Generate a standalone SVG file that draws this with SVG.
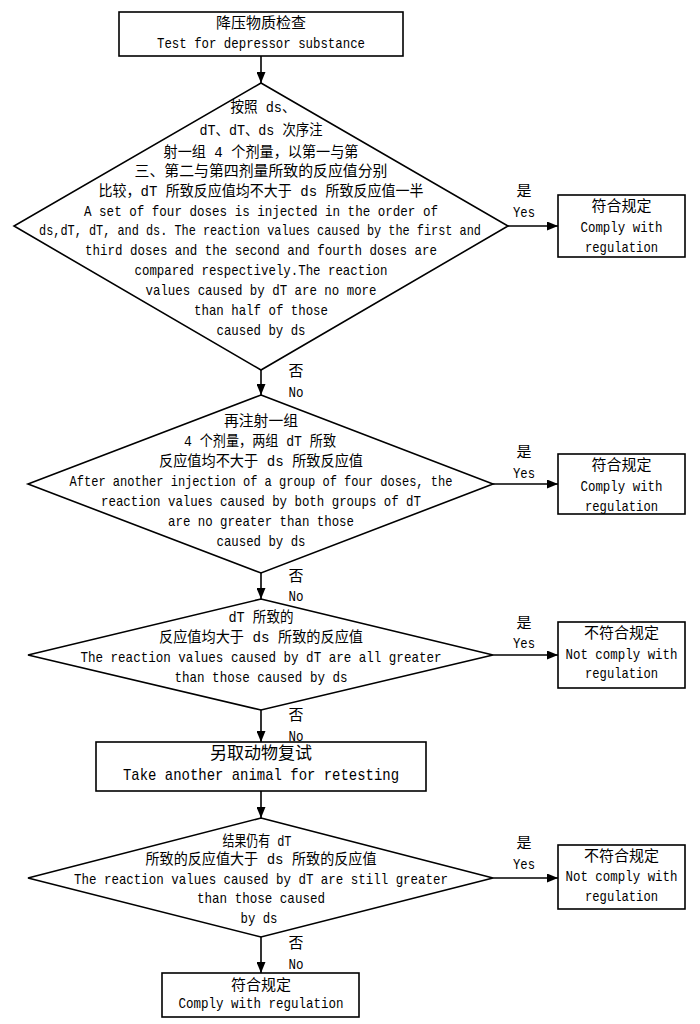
<svg xmlns="http://www.w3.org/2000/svg" width="700" height="1024" viewBox="0 0 700 1024">
<style>
text{font-family:"Liberation Mono","Noto Sans CJK SC",monospace;font-size:15px;fill:#000;text-anchor:middle;dominant-baseline:central}
.big{font-size:17px}
.shape{fill:#fff;stroke:#000;stroke-width:1.6}
.conn{stroke:#000;stroke-width:1.6;fill:none;marker-end:url(#ah)}
</style>
<defs>
<marker id="ah" markerUnits="userSpaceOnUse" markerWidth="11" markerHeight="9" refX="11" refY="4.5" orient="auto">
<path d="M0,0 L11,4.5 L0,9 z" fill="#000"/>
</marker>
</defs>
<rect width="700" height="1024" fill="#fff"/>
<g id="connectors">
<line class="conn" x1="261" y1="56" x2="261" y2="83"/>
<line class="conn" x1="261" y1="370" x2="261" y2="395"/>
<line class="conn" x1="261" y1="573" x2="261" y2="599"/>
<line class="conn" x1="261" y1="710" x2="261" y2="742"/>
<line class="conn" x1="261" y1="791" x2="261" y2="818"/>
<line class="conn" x1="261" y1="937" x2="261" y2="973"/>
<line class="conn" x1="508" y1="226" x2="558" y2="226"/>
<line class="conn" x1="493" y1="484" x2="558" y2="484"/>
<line class="conn" x1="493" y1="655" x2="558" y2="655"/>
<line class="conn" x1="493" y1="878" x2="558" y2="878"/>
<text x="524" y="192">是</text><text x="524" y="213" textLength="22" lengthAdjust="spacingAndGlyphs">Yes</text>
<text x="296" y="372">否</text><text x="296" y="393" textLength="15" lengthAdjust="spacingAndGlyphs">No</text>
<text x="524" y="453">是</text><text x="524" y="474" textLength="22" lengthAdjust="spacingAndGlyphs">Yes</text>
<text x="296" y="577">否</text><text x="296" y="597" textLength="15" lengthAdjust="spacingAndGlyphs">No</text>
<text x="524" y="624">是</text><text x="524" y="644" textLength="22" lengthAdjust="spacingAndGlyphs">Yes</text>
<text x="296" y="716">否</text><text x="296" y="737" textLength="15" lengthAdjust="spacingAndGlyphs">No</text>
<text x="524" y="844">是</text><text x="524" y="865" textLength="22" lengthAdjust="spacingAndGlyphs">Yes</text>
<text x="296" y="944">否</text><text x="296" y="965" textLength="15" lengthAdjust="spacingAndGlyphs">No</text>
</g>
<g id="start">
<rect class="shape" x="119" y="12" width="284" height="44"/>
<text x="261" y="24">降压物质检查</text>
<text x="261" y="44" textLength="208" lengthAdjust="spacingAndGlyphs">Test for depressor substance</text>
</g>
<g id="decision1">
<polygon class="shape" points="261,83 508,226 261,370 14,226"/>
<text x="263" y="108" textLength="65" lengthAdjust="spacingAndGlyphs">按照 ds、</text>
<text x="261" y="131" textLength="123" lengthAdjust="spacingAndGlyphs">dT、dT、ds 次序注</text>
<text x="261" y="153" textLength="195" lengthAdjust="spacingAndGlyphs">射一组 4 个剂量，以第一与第</text>
<text x="261" y="172" textLength="253" lengthAdjust="spacingAndGlyphs">三、第二与第四剂量所致的反应值分别</text>
<text x="261" y="192" textLength="325" lengthAdjust="spacingAndGlyphs">比较，dT 所致反应值均不大于 ds 所致反应值一半</text>
<text x="261" y="212" textLength="354" lengthAdjust="spacingAndGlyphs">A set of four doses is injected in the order of</text>
<text x="260" y="231" textLength="442" lengthAdjust="spacingAndGlyphs">ds,dT, dT, and ds. The reaction values caused by the first and</text>
<text x="261" y="251" textLength="352" lengthAdjust="spacingAndGlyphs">third doses and the second and fourth doses are</text>
<text x="261" y="271" textLength="253" lengthAdjust="spacingAndGlyphs">compared respectively.The reaction</text>
<text x="261" y="291" textLength="231" lengthAdjust="spacingAndGlyphs">values caused by dT are no more</text>
<text x="261" y="311" textLength="134" lengthAdjust="spacingAndGlyphs">than half of those</text>
<text x="261" y="331" textLength="89" lengthAdjust="spacingAndGlyphs">caused by ds</text>
</g>
<g id="yes1">
<rect class="shape" x="558" y="195" width="127" height="62"/>
<text x="621.5" y="207">符合规定</text>
<text x="621.5" y="228" textLength="82" lengthAdjust="spacingAndGlyphs">Comply with</text>
<text x="621.5" y="248" textLength="73" lengthAdjust="spacingAndGlyphs">regulation</text>
</g>
<g id="decision2">
<polygon class="shape" points="261,395 493,484 261,573 28,484"/>
<text x="261" y="422" textLength="74" lengthAdjust="spacingAndGlyphs">再注射一组</text>
<text x="260" y="442" textLength="152" lengthAdjust="spacingAndGlyphs">4 个剂量，两组 dT 所致</text>
<text x="261" y="462" textLength="204" lengthAdjust="spacingAndGlyphs">反应值均不大于 ds 所致反应值</text>
<text x="261" y="482" textLength="383" lengthAdjust="spacingAndGlyphs">After another injection of a group of four doses, the</text>
<text x="261" y="502" textLength="320" lengthAdjust="spacingAndGlyphs">reaction values caused by both groups of dT</text>
<text x="261" y="522" textLength="186" lengthAdjust="spacingAndGlyphs">are no greater than those</text>
<text x="261" y="542" textLength="89" lengthAdjust="spacingAndGlyphs">caused by ds</text>
</g>
<g id="yes2">
<rect class="shape" x="558" y="454" width="127" height="60"/>
<text x="621.5" y="466">符合规定</text>
<text x="621.5" y="487" textLength="82" lengthAdjust="spacingAndGlyphs">Comply with</text>
<text x="621.5" y="507" textLength="73" lengthAdjust="spacingAndGlyphs">regulation</text>
</g>
<g id="decision3">
<polygon class="shape" points="261,599 493,655 261,710 28,655"/>
<text x="261" y="618" textLength="65" lengthAdjust="spacingAndGlyphs">dT 所致的</text>
<text x="261" y="638" textLength="204" lengthAdjust="spacingAndGlyphs">反应值均大于 ds 所致的反应值</text>
<text x="261" y="658" textLength="361" lengthAdjust="spacingAndGlyphs">The reaction values caused by dT are all greater</text>
<text x="261" y="678" textLength="173" lengthAdjust="spacingAndGlyphs">than those caused by ds</text>
</g>
<g id="no3">
<rect class="shape" x="558" y="622" width="127" height="66"/>
<text x="621.5" y="634">不符合规定</text>
<text x="621.5" y="655" textLength="112" lengthAdjust="spacingAndGlyphs">Not comply with</text>
<text x="621.5" y="674" textLength="73" lengthAdjust="spacingAndGlyphs">regulation</text>
</g>
<g id="retest">
<rect class="shape" x="96" y="742" width="330" height="49"/>
<text class="big" x="261" y="754">另取动物复试</text>
<text class="big" x="261" y="775" textLength="276" lengthAdjust="spacingAndGlyphs">Take another animal for retesting</text>
</g>
<g id="decision4">
<polygon class="shape" points="261,818 493,878 261,937 28,878"/>
<text x="257" y="842" textLength="69" lengthAdjust="spacingAndGlyphs">结果仍有 dT</text>
<text x="261" y="860" textLength="231" lengthAdjust="spacingAndGlyphs">所致的反应值大于 ds 所致的反应值</text>
<text x="261" y="880" textLength="374" lengthAdjust="spacingAndGlyphs">The reaction values caused by dT are still greater</text>
<text x="261" y="899" textLength="128" lengthAdjust="spacingAndGlyphs">than those caused</text>
<text x="259" y="919" textLength="37" lengthAdjust="spacingAndGlyphs">by ds</text>
</g>
<g id="no4">
<rect class="shape" x="558" y="845" width="127" height="64"/>
<text x="621.5" y="857">不符合规定</text>
<text x="621.5" y="877" textLength="112" lengthAdjust="spacingAndGlyphs">Not comply with</text>
<text x="621.5" y="897" textLength="73" lengthAdjust="spacingAndGlyphs">regulation</text>
</g>
<g id="end">
<rect class="shape" x="162" y="973" width="197" height="44"/>
<text x="261" y="986">符合规定</text>
<text x="261" y="1004" textLength="165" lengthAdjust="spacingAndGlyphs">Comply with regulation</text>
</g>
</svg>
